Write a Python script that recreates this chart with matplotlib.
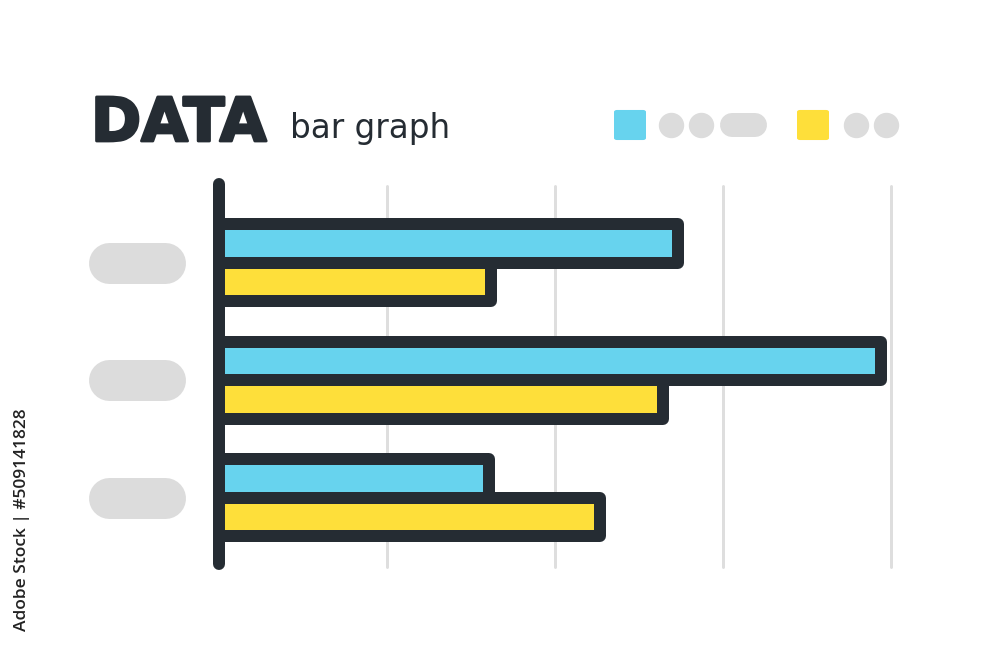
import numpy as np
import matplotlib
matplotlib.use("Agg")
import matplotlib.pyplot as plt
import matplotlib.patheffects as pe
from matplotlib.lines import Line2D
from matplotlib.patches import FancyBboxPatch
from matplotlib.transforms import blended_transform_factory

# data (one grid step = 1)
categories = ["A", "B", "C"]
blue_values = [2.73, 3.94, 1.61]
yellow_values = [1.62, 2.64, 2.27]
grid_ticks = [1, 2, 3, 4]

BLUE = "#67d3ee"
YELLOW = "#fedf3a"
DARK = "#252c33"
GRAY = "#dcdcdc"
GRID = "#dedede"

fig = plt.figure(figsize=(10, 6.45), dpi=100)
fig.patch.set_facecolor("white")
ax = fig.add_axes([0.219, 0.1163, 0.672, 0.6047])
ax.set_xlim(0, 4)
ax.set_ylim(2.613, -0.706)
ax.axis("off")

px = 0.72  # points per pixel at dpi 100

# light vertical grid lines
for t in grid_ticks:
    ax.plot([t, t], [-0.651, 2.587], color=GRID, lw=3 * px,
            solid_capstyle="round", zorder=1, clip_on=False)

y = np.arange(len(categories))
h = 0.328
b1 = ax.barh(y - h / 2, blue_values, height=h, color=BLUE, edgecolor=DARK,
             linewidth=12 * px, zorder=2, clip_on=False)
b2 = ax.barh(y + h / 2, yellow_values, height=h, color=YELLOW, edgecolor=DARK,
             linewidth=12 * px, zorder=2, clip_on=False)
for p in list(b1) + list(b2):
    p.set_joinstyle("round")

# thick left axis line
ax.plot([0, 0], [-0.67, 2.562], color=DARK, lw=12 * px,
        solid_capstyle="round", zorder=3, clip_on=False)

# gray placeholder labels for the categories
tr = blended_transform_factory(fig.transFigure, ax.transData)
for yi in y:
    fig.add_artist(Line2D([0.1085, 0.1645], [yi, yi], transform=tr, color=GRAY,
                          lw=41 * px, solid_capstyle="round"))


def fy(v):
    return 1 - v / 645


# title
fig.text(0.091, fy(141), "DATA", family="DejaVu Sans", weight="bold",
         fontsize=43.5, color=DARK, va="baseline", ha="left",
         path_effects=[pe.withStroke(linewidth=2, foreground=DARK, capstyle="round",
                                     joinstyle="round")])
fig.text(0.29, fy(138), "bar graph", family="DejaVu Sans",
         fontsize=23.5, color=DARK, va="baseline", ha="left")

# legend made of placeholder shapes
for x0, col in [(614, BLUE), (797, YELLOW)]:
    fig.add_artist(FancyBboxPatch((x0 / 1000 + 0.003, fy(141) + 0.0045),
                                  0.026, 32 / 645 - 0.009,
                                  boxstyle="round,pad=0.003", transform=fig.transFigure,
                                  facecolor=col, edgecolor="none"))
for cx in [671, 701, 856, 886]:
    fig.add_artist(Line2D([cx / 1000], [fy(125)], transform=fig.transFigure,
                          marker="o", markersize=24 * px, color=GRAY, lw=0))
fig.add_artist(Line2D([0.732, 0.755], [fy(125), fy(125)], transform=fig.transFigure,
                      color=GRAY, lw=24 * px, solid_capstyle="round"))

# credit line on the left edge
fig.text(0.022, fy(520), "Adobe Stock | #509141828", rotation=90,
         family="Open Sans", weight="semibold", fontsize=12.5, color="#222222",
         ha="center", va="center")

fig.savefig("out.png", dpi=100, facecolor="white")
